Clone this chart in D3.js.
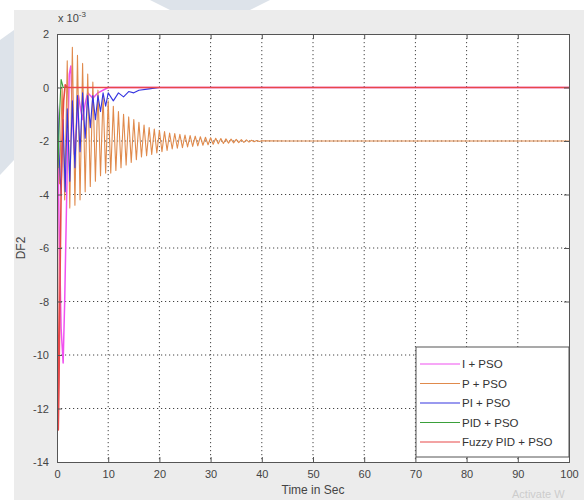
<!DOCTYPE html>
<html>
<head>
<meta charset="utf-8">
<script src="https://cdn.jsdelivr.net/npm/d3@7"></script>
<style>
  html, body { margin: 0; padding: 0; background: #ffffff; }
  svg { display: block; }
  text { font-family: "Liberation Sans", Arial, sans-serif; }
</style>
</head>
<body>
<svg id="chart" width="584" height="500"></svg>
<script>
// ---------------- DATA ----------------
const xTicks = [0, 10, 20, 30, 40, 50, 60, 70, 80, 90, 100];
const yTicks = [2, 0, -2, -4, -6, -8, -10, -12, -14];
const seriesNames = ["I + PSO", "P + PSO", "PI + PSO", "PID + PSO", "Fuzzy PID + PSO"];

// I + PSO
const iT = [0, 0.4, 0.8, 1.2, 1.5, 1.8, 2.1, 2.4, 2.7, 3.0, 3.4, 3.8, 4.2, 4.6, 5.0, 5.5, 6.0, 7.0, 8.0, 10, 100];
const iV = [0, -5, -9, -10.3, -8, -5, -2, 0.5, 0.8, -1, -2.5, -1.5, -0.3, -0.8, -1.2, -0.6, -0.2, -0.4, -0.2, 0, 0];

// P + PSO (peaks/troughs every 0.5 s)
const pT = [0, 0.5, 1, 1.5, 2, 2.5, 3, 3.5, 4, 4.5, 5, 5.5, 6, 6.5, 7, 7.5, 8, 8.5, 9, 9.5,
            10, 10.5, 11, 11.5, 12, 12.5, 13, 13.5, 14, 14.5, 15, 15.5, 16, 16.5, 17, 17.5, 18, 18.5, 19, 19.5,
            20, 20.5, 21, 21.5, 22, 22.5, 23, 23.5, 24, 24.5, 25, 25.5, 26, 26.5, 27, 27.5, 28, 28.5, 29, 29.5,
            30, 30.5, 31, 31.5, 32, 32.5, 33, 33.5, 34, 34.5, 35, 35.5, 36, 36.5, 37, 37.5, 38, 38.5, 39, 39.5,
            40, 45, 100];
const pV = [0, -3.6, 0.0, -4.2, 1.0, -4.5, 1.5, -4.4, 1.2, -4.2, 0.9, -3.9, 0.5, -3.7, 0.2, -3.5, -0.1, -3.3, -0.3, -3.2,
            -0.5, -3.2, -0.7, -3.1, -0.9, -3.0, -1.0, -2.9, -1.1, -2.8, -1.2, -2.7, -1.3, -2.6, -1.4, -2.55, -1.5, -2.5, -1.55, -2.45,
            -1.6, -2.4, -1.65, -2.35, -1.7, -2.3, -1.72, -2.27, -1.75, -2.25, -1.78, -2.22, -1.8, -2.2, -1.82, -2.18, -1.84, -2.16, -1.86, -2.14,
            -1.88, -2.12, -1.9, -2.1, -1.91, -2.09, -1.92, -2.08, -1.93, -2.07, -1.94, -2.06, -1.95, -2.05, -1.96, -2.04, -1.97, -2.03, -1.98, -2.02,
            -1.99, -2, -2];

// PI + PSO
const piT = [0, 0.4, 0.8, 1.2, 1.6, 2.0, 2.5, 3.0, 3.5, 4.0, 4.5, 5.0, 5.5, 6.0, 6.5, 7.0, 7.5, 8.0, 8.5, 9.0, 9.5, 10, 11, 12, 13, 14, 15, 16, 18, 20, 100];
const piV = [0, -2.5, -4.0, -1.2, -3.9, -0.8, -3.5, -0.5, -3.0, -0.3, -2.4, -0.2, -1.9, -0.3, -1.5, -0.3, -1.2, -0.3, -0.9, -0.2, -0.7, -0.2, -0.5, -0.2, -0.35, -0.15, -0.2, -0.1, -0.05, 0, 0];

// PID + PSO
const pidT = [0, 0.2, 0.5, 0.8, 1.2, 2, 100];
const pidV = [0, -3, -1, 0.3, 0, 0, 0];

// Fuzzy PID + PSO
const fzT = [0, 0.1, 0.25, 0.4, 0.6, 0.8, 1.0, 1.3, 1.6, 2, 100];
const fzV = [0, -6, -12.8, -11, -7, -4, -2, -0.5, 0.1, 0, 0];

const colors = ["#f050f0", "#e08a4c", "#3535e0", "#3aa03a", "#e84848"];

// ---------------- CHART ----------------
const svg = d3.select("#chart");
const L = 57, R = 569, T = 34, B = 462;
const x = d3.scaleLinear().domain([0, 100]).range([L, R]);
const y = d3.scaleLinear().domain([-14, 2]).range([B, T]);

// figure background
svg.append("rect").attr("x", 0).attr("y", 0).attr("width", 584).attr("height", 500).attr("fill", "#ffffff");
svg.append("path").attr("d", "M0,40 L14,30 L14,160 L0,175 Z").attr("fill", "#dde3ea");
svg.append("path").attr("d", "M150,0 L270,0 L250,10 L170,10 Z").attr("fill", "#dde3ea");
svg.append("rect").attr("x", 14).attr("y", 10).attr("width", 570).attr("height", 490).attr("fill", "#ececec");
svg.append("rect").attr("x", L).attr("y", T).attr("width", R - L).attr("height", B - T).attr("fill", "#ffffff");

// grid
const grid = svg.append("g").attr("stroke", "#444").attr("stroke-width", 1).attr("stroke-dasharray", "1.2,2.8");
xTicks.slice(1, -1).forEach(t => {
  grid.append("line").attr("x1", x(t)).attr("x2", x(t)).attr("y1", T).attr("y2", B);
});
yTicks.slice(1, -1).forEach(t => {
  grid.append("line").attr("x1", L).attr("x2", R).attr("y1", y(t)).attr("y2", y(t));
});

// lines
const clip = svg.append("clipPath").attr("id", "clip");
clip.append("rect").attr("x", L).attr("y", T).attr("width", R - L).attr("height", B - T);
const line = d3.line().x(d => x(d[0])).y(d => y(d[1]));
const seriesData = [
  d3.zip(iT, iV), d3.zip(pT, pV), d3.zip(piT, piV), d3.zip(pidT, pidV), d3.zip(fzT, fzV)
];
const lg = svg.append("g").attr("clip-path", "url(#clip)");
seriesData.forEach((d, i) => {
  lg.append("path").datum(d).attr("d", line)
    .attr("fill", "none").attr("stroke", colors[i])
    .attr("stroke-width", i === 4 ? 1.6 : (i === 0 ? 1.5 : 1.1))
    .attr("stroke-linejoin", "round");
});

// axes
const axColor = "#555";
const fmt = d => String(d);
const ax = svg.append("g");
ax.append("g").attr("transform", `translate(0,${B})`)
  .call(d3.axisBottom(x).tickValues(xTicks).tickSize(-5).tickPadding(8).tickFormat(fmt));
ax.append("g").attr("transform", `translate(0,${T})`)
  .call(d3.axisTop(x).tickValues(xTicks).tickSize(-5).tickFormat(""));
ax.append("g").attr("transform", `translate(${L},0)`)
  .call(d3.axisLeft(y).tickValues(yTicks).tickSize(-5).tickPadding(8).tickFormat(fmt));
ax.append("g").attr("transform", `translate(${R},0)`)
  .call(d3.axisRight(y).tickValues(yTicks).tickSize(-5).tickFormat(""));
ax.selectAll(".domain").attr("stroke", axColor);
ax.selectAll(".tick line").attr("stroke", axColor);
ax.selectAll(".tick text").attr("fill", "#444").attr("font-size", 11)
  .attr("font-family", "'Liberation Sans', Arial, sans-serif");

// exponent label
const ex = svg.append("text").attr("x", 58).attr("y", 22).attr("fill", "#444").attr("font-size", 11);
ex.append("tspan").text("x 10");
ex.append("tspan").attr("dy", -5).attr("font-size", 8).text("-3");

// axis labels
svg.append("text").attr("x", (L + R) / 2).attr("y", 494).attr("text-anchor", "middle")
  .attr("fill", "#444").attr("font-size", 12).text("Time in Sec");
svg.append("text").attr("transform", `translate(25,${(T + B) / 2}) rotate(-90)`).attr("text-anchor", "middle")
  .attr("fill", "#444").attr("font-size", 12).text("DF2");

// legend
const legX = 416, legY = 347, legW = 153, legH = 110;
svg.append("rect").attr("x", legX).attr("y", legY).attr("width", legW).attr("height", legH)
  .attr("fill", "#ffffff").attr("stroke", axColor).attr("stroke-width", 1);
seriesNames.forEach((n, i) => {
  const yy = legY + 17 + i * 19.5;
  svg.append("line").attr("x1", legX + 4).attr("x2", legX + 44).attr("y1", yy).attr("y2", yy)
    .attr("stroke", colors[i]).attr("stroke-width", 1.2);
  svg.append("text").attr("x", legX + 46).attr("y", yy + 4).attr("fill", "#333").attr("font-size", 11.5).text(n);
});

// watermark
svg.append("text").attr("x", 512).attr("y", 498).attr("fill", "#cccccc").attr("font-size", 11).text("Activate W");
</script>
</body>
</html>
